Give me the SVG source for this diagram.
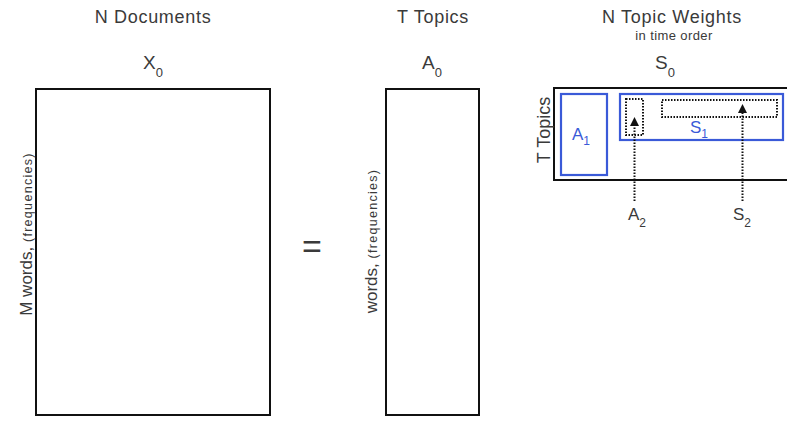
<svg xmlns="http://www.w3.org/2000/svg" width="787" height="421" viewBox="0 0 787 421">
  <defs>
    <style>
      text { font-family: "Liberation Sans", Arial, sans-serif; fill: #3a3a3a; }
      .title { font-size: 18px; text-anchor: middle; letter-spacing: 0.7px; }
      .note { font-size: 13px; text-anchor: middle; letter-spacing: 0.4px; }
      .sym { font-size: 19px; }
      .sub { font-size: 13px; }
      .lbl { font-size: 17px; }
      .lsub { font-size: 12px; }
      .axis { font-size: 17px; }
      .freq { font-size: 12.5px; letter-spacing: 1.3px; }
      .blue { fill: #3a5ad8; }
      .mat { fill: none; stroke: #111; stroke-width: 2; }
      .bluebox { fill: none; stroke: #3a5ad8; stroke-width: 2.2; }
      .dot { fill: none; stroke: #111; stroke-width: 2; stroke-dasharray: 1.5 1.5; }
      .head { fill: #111; }
    </style>
  </defs>

  <!-- documents matrix -->
  <g id="X0">
    <text class="title" x="153" y="23">N  Documents</text>
    <text class="sym" x="143" y="69">X<tspan class="sub" dy="8">0</tspan></text>
    <rect class="mat" x="36" y="89" width="234" height="326"/>
    <text transform="translate(32,234) rotate(-90)" text-anchor="middle"><tspan class="axis">M  words, </tspan><tspan class="freq">(frequencies)</tspan></text>
  </g>

  <!-- equals sign -->
  <g id="equals">
    <text x="312" y="258" font-size="34" text-anchor="middle" fill="#222">=</text>
  </g>

  <!-- topics matrix -->
  <g id="A0">
    <text class="title" x="433" y="23">T  Topics</text>
    <text class="sym" x="422" y="69">A<tspan class="sub" dy="8">0</tspan></text>
    <rect class="mat" x="386" y="89" width="93" height="326"/>
    <text transform="translate(377,241) rotate(-90)" text-anchor="middle"><tspan class="axis">words, </tspan><tspan class="freq">(frequencies)</tspan></text>
  </g>

  <!-- weights matrix -->
  <g id="S0">
    <text class="title" x="672" y="23">N Topic Weights</text>
    <text class="note" x="674" y="40">in time order</text>
    <text class="sym" x="655" y="69">S<tspan class="sub" dy="8">0</tspan></text>
    <path class="mat" d="M790,88 H554 V180 H790"/>
    <text transform="translate(550,130) rotate(-90)" text-anchor="middle" font-size="18">T  Topics</text>
  </g>

  <g id="A1">
    <rect class="bluebox" x="561" y="94" width="46" height="81"/>
    <text class="blue lbl" x="572" y="140">A<tspan class="lsub" dy="5">1</tspan></text>
  </g>

  <g id="S1">
    <rect class="bluebox" x="620" y="94" width="163" height="46"/>
    <text class="blue lbl" x="690" y="133">S<tspan class="lsub" dy="5">1</tspan></text>
  </g>

  <g id="A2">
    <rect class="dot" x="626" y="99" width="17" height="36"/>
    <text class="lbl" x="628" y="220">A<tspan class="lsub" dy="7">2</tspan></text>
  </g>

  <g id="S2">
    <rect class="dot" x="662" y="100" width="115" height="17"/>
    <text class="lbl" x="733" y="220">S<tspan class="lsub" dy="7">2</tspan></text>
  </g>

  <!-- pointers -->
  <g id="connectors">
    <line class="dot" x1="634.5" y1="201" x2="634.5" y2="125"/>
    <polygon class="head" points="634.5,117 630,126 639,126"/>
    <line class="dot" x1="742.5" y1="201" x2="742.5" y2="112"/>
    <polygon class="head" points="742.5,104 738,113 747,113"/>
  </g>
</svg>
